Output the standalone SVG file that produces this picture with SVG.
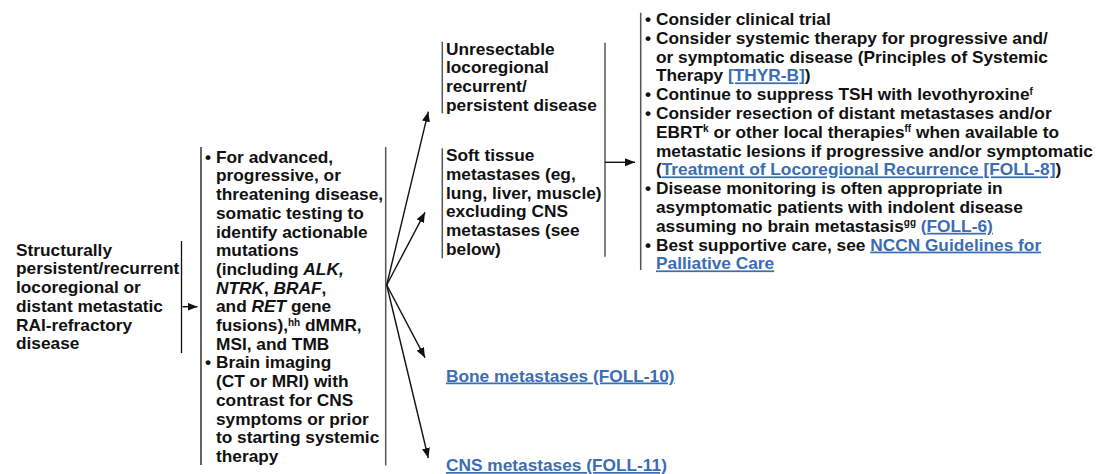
<svg xmlns="http://www.w3.org/2000/svg" width="1099" height="474" viewBox="0 0 1099 474">
<defs>
<style>
text{font-family:"Liberation Sans",Arial,sans-serif;font-size:17.3px;font-weight:bold;fill:#111}
.lk{fill:#3a6db3;text-decoration:underline}
.it{font-style:italic}
.sup{font-size:10px}
.bar{stroke:#555;stroke-width:1.5;fill:none}
.bk{stroke:#111;stroke-width:1.3;fill:none}
.con{stroke:#111;stroke-width:1.4;fill:none}
</style>
<marker id="ah" viewBox="0 0 10 8" refX="10" refY="4" markerWidth="10" markerHeight="8" markerUnits="userSpaceOnUse" orient="auto">
<path d="M0,0 L10,4 L0,8 z" fill="#111"/>
</marker>
</defs>
<rect width="1099" height="474" fill="#fff"/>

<g id="node-start">
<text x="16" y="255.7">Structurally</text>
<text x="16" y="274.4">persistent/recurrent</text>
<text x="16" y="293.1">locoregional or</text>
<text x="16" y="311.8">distant metastatic</text>
<text x="16" y="330.5">RAI-refractory</text>
<text x="16" y="349.2">disease</text>
<line class="bk" x1="181.5" y1="241" x2="181.5" y2="353"/>
</g>

<g id="node-workup">
<line class="bk" x1="201" y1="147" x2="201" y2="465"/>
<text x="205" y="162.7">•</text>
<text x="216" y="162.7">For advanced,</text>
<text x="216" y="181.4">progressive, or</text>
<text x="216" y="200.1">threatening disease,</text>
<text x="216" y="218.8">somatic testing to</text>
<text x="216" y="237.5">identify actionable</text>
<text x="216" y="256.2">mutations</text>
<text x="216" y="274.9">(including <tspan class="it">ALK,</tspan></text>
<text x="216" y="293.6"><tspan class="it">NTRK</tspan>, <tspan class="it">BRAF</tspan>,</text>
<text x="216" y="312.3">and <tspan class="it">RET</tspan> gene</text>
<text x="216" y="331">fusions),<tspan class="sup" dy="-5.5">hh</tspan><tspan dy="5.5"> dMMR,</tspan></text>
<text x="216" y="349.7">MSI, and TMB</text>
<text x="205" y="368.4">•</text>
<text x="216" y="368.4">Brain imaging</text>
<text x="216" y="387.1">(CT or MRI) with</text>
<text x="216" y="405.8">contrast for CNS</text>
<text x="216" y="424.5">symptoms or prior</text>
<text x="216" y="443.2">to starting systemic</text>
<text x="216" y="461.9">therapy</text>
<line class="bar" x1="385.7" y1="147" x2="385.7" y2="465.5"/>
</g>

<g id="node-unresectable">
<line class="bar" x1="442.3" y1="41.7" x2="442.3" y2="113.3"/>
<text x="446" y="54.5">Unresectable</text>
<text x="446" y="73.2">locoregional</text>
<text x="446" y="91.9">recurrent/</text>
<text x="446" y="110.6">persistent disease</text>
</g>

<g id="node-softtissue">
<line class="bar" x1="442.3" y1="148.3" x2="442.3" y2="258.3"/>
<text x="446" y="161.2">Soft tissue</text>
<text x="446" y="179.9">metastases (eg,</text>
<text x="446" y="198.6">lung, liver, muscle)</text>
<text x="446" y="217.3">excluding CNS</text>
<text x="446" y="236">metastases (see</text>
<text x="446" y="254.7">below)</text>
<line class="bar" x1="605" y1="42.7" x2="605" y2="256.7"/>
</g>

<g id="node-bone">
<text x="446" y="381.5" class="lk">Bone metastases (FOLL-10)</text>
</g>

<g id="node-cns">
<text x="446" y="471" class="lk">CNS metastases (FOLL-11)</text>
</g>

<g id="node-management">
<line class="bar" x1="640.7" y1="12.7" x2="640.7" y2="270"/>
<text x="645" y="25">•</text>
<text x="656" y="25">Consider clinical trial</text>
<text x="645" y="43.8">•</text>
<text x="656" y="43.8">Consider systemic therapy for progressive and/</text>
<text x="656" y="62.6">or symptomatic disease (Principles of Systemic</text>
<text x="656" y="81.4">Therapy <tspan class="lk">[THYR-B]</tspan>)</text>
<text x="645" y="100.2">•</text>
<text x="656" y="100.2">Continue to suppress TSH with levothyroxine<tspan class="sup" dy="-5.5">f</tspan></text>
<text x="645" y="119">•</text>
<text x="656" y="119">Consider resection of distant metastases and/or</text>
<text x="656" y="137.8">EBRT<tspan class="sup" dy="-5.5">k</tspan><tspan dy="5.5"> or other local therapies</tspan><tspan class="sup" dy="-5.5">ff</tspan><tspan dy="5.5"> when available to</tspan></text>
<text x="656" y="156.6">metastatic lesions if progressive and/or symptomatic</text>
<text x="656" y="175.4">(<tspan class="lk">Treatment of Locoregional Recurrence [FOLL-8]</tspan>)</text>
<text x="645" y="194.2">•</text>
<text x="656" y="194.2">Disease monitoring is often appropriate in</text>
<text x="656" y="213">asymptomatic patients with indolent disease</text>
<text x="656" y="231.8">assuming no brain metastasis<tspan class="sup" dy="-5.5">gg</tspan><tspan dy="5.5"> </tspan><tspan class="lk">(FOLL-6)</tspan></text>
<text x="645" y="250.6">•</text>
<text x="656" y="250.6">Best supportive care, see <tspan class="lk">NCCN Guidelines for </tspan></text>
<text x="656" y="269.4" class="lk">Palliative Care</text>
</g>

<g id="connectors">
<line class="con" x1="182.5" y1="306.7" x2="197.5" y2="306.7" marker-end="url(#ah)"/>
<line class="con" x1="386.7" y1="285" x2="428.3" y2="111.7" marker-end="url(#ah)"/>
<line class="con" x1="386.7" y1="285" x2="425" y2="212.3" marker-end="url(#ah)"/>
<line class="con" x1="386.7" y1="285" x2="425" y2="357.7" marker-end="url(#ah)"/>
<line class="con" x1="386.7" y1="285" x2="428.3" y2="458" marker-end="url(#ah)"/>
<line class="con" x1="605" y1="162.3" x2="635" y2="162.3" marker-end="url(#ah)"/>
</g>
</svg>
